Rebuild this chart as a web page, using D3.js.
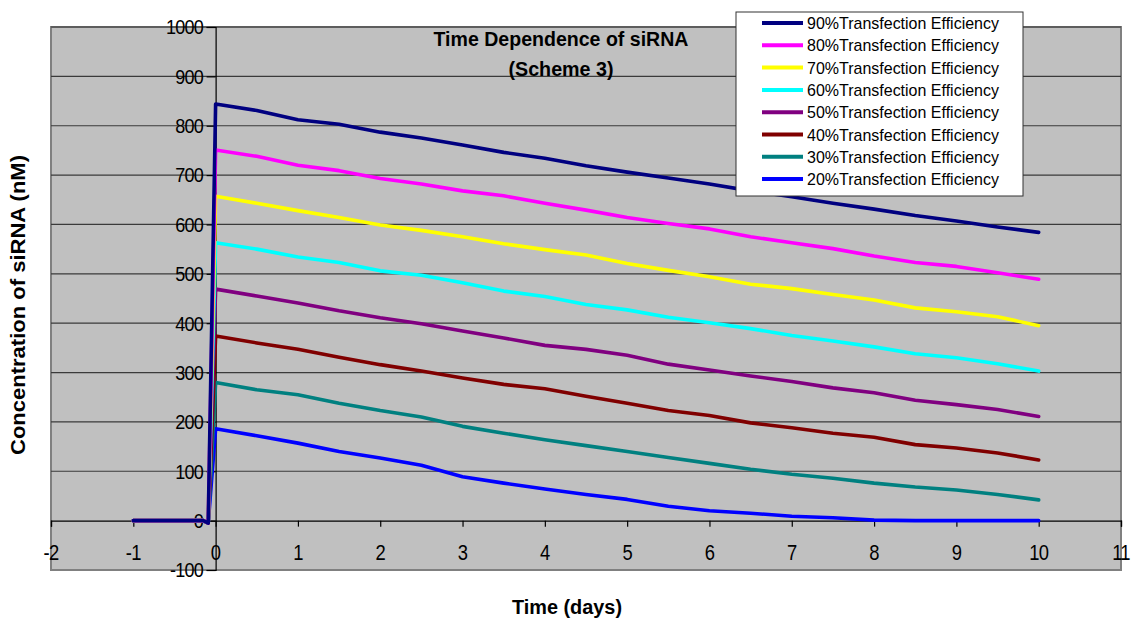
<!DOCTYPE html>
<html>
<head>
<meta charset="utf-8">
<script src="https://cdn.jsdelivr.net/npm/d3@7"></script>
<style>
  html, body { margin: 0; padding: 0; background: #ffffff; }
  svg { display: block; font-family: Arial, "Liberation Sans", sans-serif; }
</style>
</head>
<body>
<svg id="chart" width="1131" height="622"></svg>
<script>
// Time points (days) at which siRNA concentration was sampled
const days = [-1, -0.5, -0.15, -0.09, 0, 0.5, 1, 1.5, 2, 2.5, 3, 3.5, 4, 4.5, 5, 5.5, 6, 6.5, 7, 7.5, 8, 8.5, 9, 9.5, 10];

// Concentration of siRNA (nM) for each transfection efficiency
const eff90 = [0, 0, 0, -5, 844, 831, 812, 803, 787, 775, 761, 746, 734, 719, 706, 694, 682, 668, 656, 643, 631, 618, 607, 595, 584];
const eff80 = [0, 0, 0, -5, 751, 738, 720, 709, 693, 682, 668, 658, 643, 629, 614, 602, 591, 575, 563, 551, 536, 523, 515, 502, 489];
const eff70 = [0, 0, 0, -5, 657, 643, 628, 614, 599, 588, 575, 561, 549, 538, 521, 507, 494, 479, 470, 458, 447, 431, 423, 413, 395];
const eff60 = [0, 0, 0, -5, 563, 550, 534, 523, 506, 497, 482, 465, 454, 438, 427, 412, 401, 389, 375, 364, 352, 338, 330, 318, 303];
const eff50 = [0, 0, 0, -5, 469, 455, 441, 425, 411, 399, 384, 370, 355, 347, 335, 317, 305, 293, 282, 269, 259, 244, 235, 225, 211];
const eff40 = [0, 0, 0, -5, 374, 360, 347, 331, 316, 303, 289, 276, 267, 252, 238, 223, 213, 198, 188, 177, 169, 154, 147, 137, 123];
const eff30 = [0, 0, 0, -5, 280, 265, 255, 238, 223, 210, 191, 177, 164, 152, 140, 128, 116, 104, 94, 86, 76, 68, 62, 53, 42];
const eff20 = [0, 0, 0, -5, 186, 172, 157, 140, 127, 112, 89, 76, 64, 53, 43, 29, 20, 15, 9, 6, 1, 0, 0, 0, 0];

const seriesNames = [
  "90%Transfection Efficiency",
  "80%Transfection Efficiency",
  "70%Transfection Efficiency",
  "60%Transfection Efficiency",
  "50%Transfection Efficiency",
  "40%Transfection Efficiency",
  "30%Transfection Efficiency",
  "20%Transfection Efficiency"
];
const seriesValues = [eff90, eff80, eff70, eff60, eff50, eff40, eff30, eff20];
const seriesColors = ["#000080", "#FF00FF", "#FFFF00", "#00FFFF", "#800080", "#800000", "#008080", "#0000FF"];

const xTicks = [-2, -1, 0, 1, 2, 3, 4, 5, 6, 7, 8, 9, 10, 11];
const yTicks = [-100, 0, 100, 200, 300, 400, 500, 600, 700, 800, 900, 1000];

const svg = d3.select("#chart");

const plot = { left: 51, right: 1121, top: 27, bottom: 570 };
const x = d3.scaleLinear().domain([-2, 11]).range([plot.left, plot.right]);
const y = d3.scaleLinear().domain([-100, 1000]).range([plot.bottom, plot.top]);

// Plot area background
svg.append("rect")
  .attr("x", plot.left).attr("y", plot.top)
  .attr("width", plot.right - plot.left).attr("height", plot.bottom - plot.top)
  .attr("fill", "#C0C0C0")
  .attr("stroke", "#808080").attr("stroke-width", 2);

// Horizontal gridlines
svg.append("g")
  .selectAll("line")
  .data(yTicks.filter(v => v !== 0 && v !== -100))
  .join("line")
  .attr("x1", plot.left).attr("x2", plot.right)
  .attr("y1", d => y(d)).attr("y2", d => y(d))
  .attr("stroke", "#3a3a3a").attr("stroke-width", 1.2);

// X axis crossing at y = 0
const xAxis = d3.axisBottom(x).tickValues(xTicks).tickSize(6).tickFormat("");
const gx = svg.append("g").attr("transform", `translate(0,${y(0)})`).call(xAxis);
gx.select(".domain").attr("stroke", "#000").attr("stroke-width", 1.2);
gx.selectAll(".tick line").attr("stroke", "#000").attr("stroke-width", 1.2);

// Tick labels: slightly narrow, tall glyphs
svg.append("g")
  .selectAll("text")
  .data(xTicks)
  .join("text")
  .attr("transform", d => `translate(${x(d)},560) scale(0.92,1.08)`)
  .attr("text-anchor", "middle")
  .attr("font-size", 20)
  .attr("letter-spacing", -0.8)
  .attr("fill", "#000")
  .text(d => d);

// Y axis crossing at x = 0
const yAxis = d3.axisLeft(y).tickValues(yTicks).tickSize(9).tickFormat("");
const gy = svg.append("g").attr("transform", `translate(${x(0)},0)`).call(yAxis);
gy.select(".domain").attr("stroke", "#000").attr("stroke-width", 1.2);
gy.selectAll(".tick line").attr("stroke", "#000").attr("stroke-width", 1.2);

svg.append("g")
  .selectAll("text")
  .data(yTicks)
  .join("text")
  .attr("transform", d => `translate(203,${y(d)}) scale(0.95,1.08)`)
  .attr("dy", "0.36em")
  .attr("text-anchor", "end")
  .attr("font-size", 19)
  .attr("letter-spacing", -0.8)
  .attr("fill", "#000")
  .text(d => d);

// Series lines
const line = d3.line()
  .x((d, i) => x(days[i]))
  .y(d => y(d));

svg.append("g")
  .selectAll("path")
  .data(seriesValues.map((v, i) => ({ values: v, color: seriesColors[i] })).reverse())
  .join("path")
  .attr("d", d => line(d.values))
  .attr("fill", "none")
  .attr("stroke", d => d.color)
  .attr("stroke-width", 3.6)
  .attr("stroke-linejoin", "round")
  .attr("stroke-linecap", "round");

// Chart title
const title = svg.append("g").attr("font-weight", "bold").attr("fill", "#000").attr("text-anchor", "middle");
title.append("text").attr("x", 561).attr("y", 46).attr("font-size", 20)
  .attr("textLength", 255).attr("lengthAdjust", "spacingAndGlyphs")
  .text("Time Dependence of siRNA");
title.append("text").attr("x", 561).attr("y", 76).attr("font-size", 20)
  .attr("textLength", 105).attr("lengthAdjust", "spacingAndGlyphs")
  .text("(Scheme 3)");

// Axis titles
svg.append("text")
  .attr("x", 567).attr("y", 614)
  .attr("text-anchor", "middle")
  .attr("font-weight", "bold")
  .attr("font-size", 20)
  .attr("textLength", 110).attr("lengthAdjust", "spacingAndGlyphs")
  .attr("fill", "#000")
  .text("Time (days)");

svg.append("text")
  .attr("transform", "translate(25,305) rotate(-90)")
  .attr("text-anchor", "middle")
  .attr("font-weight", "bold")
  .attr("font-size", 20)
  .attr("textLength", 300).attr("lengthAdjust", "spacingAndGlyphs")
  .attr("fill", "#000")
  .text("Concentration of siRNA (nM)");

// Legend
const legend = svg.append("g");
legend.append("rect")
  .attr("x", 736).attr("y", 12)
  .attr("width", 287).attr("height", 184)
  .attr("fill", "#ffffff")
  .attr("stroke", "#333").attr("stroke-width", 1);

const rows = legend.selectAll("g.row")
  .data(seriesNames)
  .join("g")
  .attr("class", "row")
  .attr("transform", (d, i) => `translate(0,${23 + i * 22.3})`);

rows.append("line")
  .attr("x1", 762).attr("x2", 803)
  .attr("y1", 0).attr("y2", 0)
  .attr("stroke", (d, i) => seriesColors[i])
  .attr("stroke-width", 4);

rows.append("text")
  .attr("x", 807).attr("y", 0).attr("dy", "0.36em")
  .attr("font-size", 17)
  .attr("textLength", 192).attr("lengthAdjust", "spacingAndGlyphs")
  .attr("fill", "#000")
  .text(d => d);
</script>
</body>
</html>
